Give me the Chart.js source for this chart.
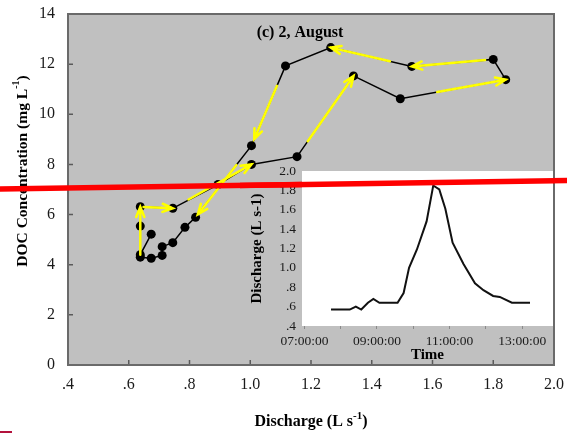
<!DOCTYPE html>
<html>
<head>
<meta charset="utf-8">
<script src="https://cdn.jsdelivr.net/npm/chart.js@4/dist/chart.umd.min.js"></script>
<style>
  html,body{margin:0;padding:0;background:#fff;}
  #wrap{position:relative;width:567px;height:438px;overflow:hidden;}
  #main{position:absolute;left:0;top:0;}
  #inset{position:absolute;left:240px;top:160px;}
</style>
</head>
<body>
<div id="wrap">
  <canvas id="main" width="567" height="438"></canvas>
  <canvas id="inset" width="314" height="205"></canvas>
</div>
<script>
// hysteresis loop (c) 2 August, in sampling order
const discharge = [0.674, 0.638, 0.638, 0.638, 0.745, 0.894, 1.004, 1.154, 1.34, 1.494, 1.841, 1.80, 1.532, 1.265, 1.116, 1.004, 0.82, 0.785, 0.745, 0.71, 0.71, 0.674, 0.638];
const docConc   = [5.22, 4.40, 5.54, 6.31, 6.25, 7.20, 8.00, 8.31, 11.53, 10.62, 11.38, 12.19, 11.91, 12.66, 11.93, 8.75, 5.89, 5.49, 4.88, 4.72, 4.37, 4.26, 4.30];
// yellow arrows: [from point, to point, start fraction, end fraction]
const arrows = [[1,3,0,1],[3,4,0.1,1],[4,6,0.2,1],[7,8,0.19,1],[9,10,0.35,1],[11,12,0.1,1],[12,13,0.27,1],[14,15,0.25,0.92],[15,16,0.27,0.96]];
const dischargeTicks = [0.4, 0.6, 0.8, 1.0, 1.2, 1.4, 1.6, 1.8, 2.0];
const docTicks = [0, 2, 4, 6, 8, 10, 12, 14];

// inset hydrograph
const sampleTimes = ['07:44','08:15','08:25','08:34','08:45','08:54','09:04','09:34','09:44','09:53','10:06','10:22','10:33','10:43','10:53','11:05','11:23','11:42','11:56','12:12','12:23','12:43','13:13'];
const flow        = [0.57, 0.57, 0.60, 0.57, 0.64, 0.68, 0.64, 0.64, 0.74, 1.00, 1.19, 1.48, 1.85, 1.81, 1.61, 1.26, 1.04, 0.84, 0.77, 0.71, 0.70, 0.64, 0.64];
const hourTicks   = ['07:00','08:00','09:00','10:00','11:00','12:00','13:00'];
const hourLabels  = ['07:00:00','','09:00:00','','11:00:00','','13:00:00'];
const flowTicks   = [0.4, 0.6, 0.8, 1.0, 1.2, 1.4, 1.6, 1.8, 2.0];

// red marker line drawn over the figure, in main-chart units
const markQ = [0.176, 2.043];
const markC = [7.024, 7.355];

const SERIF = '"Liberation Serif", "Times New Roman", serif';
const toMin = s => { const [h, m] = s.split(':').map(Number); return h * 60 + m; };
const fmtDec = v => v < 1 ? '.' + Math.round(v * 10) : v.toFixed(1);
// keep chart area where the layout padding puts it
const noPadX = s => { s.paddingLeft = 0; s.paddingRight = 0; };
const noPadY = s => { s.paddingTop = 0; s.paddingBottom = 0; };

function supText(ctx, parts, x, y, size) {
  // parts: [texto, esSuperindice]
  const fontOf = sup => 'bold ' + (sup ? Math.round(size * 0.66) : size) + 'px ' + SERIF;
  let total = 0;
  parts.forEach(([t, sup]) => { ctx.font = fontOf(sup); total += ctx.measureText(t).width; });
  let cx = x - total / 2;
  ctx.textAlign = 'left';
  parts.forEach(([t, sup]) => {
    ctx.font = fontOf(sup);
    ctx.fillText(t, cx, sup ? y - size * 0.42 : y);
    cx += ctx.measureText(t).width;
  });
}

function arrow(ctx, x0, y0, x1, y1) {
  const a = Math.atan2(y1 - y0, x1 - x0), h = 11;
  ctx.beginPath();
  ctx.moveTo(x0, y0); ctx.lineTo(x1, y1);
  ctx.moveTo(x1 - h * Math.cos(a - 0.38), y1 - h * Math.sin(a - 0.38));
  ctx.lineTo(x1, y1);
  ctx.lineTo(x1 - h * Math.cos(a + 0.38), y1 - h * Math.sin(a + 0.38));
  ctx.stroke();
}

let mainChart = null;
function drawMark(ctx, ref, offX, offY) {
  if (!ref) return;
  const sx = ref.scales.x, sy = ref.scales.y;
  ctx.save();
  ctx.strokeStyle = '#ff0000';
  ctx.lineWidth = 5.5;
  ctx.beginPath();
  ctx.moveTo(sx.getPixelForValue(markQ[0]) - offX, sy.getPixelForValue(markC[0]) - offY);
  ctx.lineTo(sx.getPixelForValue(markQ[1]) - offX, sy.getPixelForValue(markC[1]) - offY);
  ctx.stroke();
  ctx.restore();
}

const mainDeco = {
  id: 'mainDeco',
  beforeDraw(chart) {
    const {ctx, chartArea: a} = chart;
    ctx.save();
    ctx.fillStyle = '#c0c0c0';
    ctx.fillRect(a.left, a.top, a.right - a.left, a.bottom - a.top);
    ctx.restore();
  },
  beforeDatasetsDraw(chart) {
    const {ctx, chartArea: a, scales} = chart;
    ctx.save();
    ctx.strokeStyle = '#5a5a5a';
    ctx.lineWidth = 1.5;
    ctx.beginPath();
    dischargeTicks.forEach(v => { const x = scales.x.getPixelForValue(v); ctx.moveTo(x, a.bottom); ctx.lineTo(x, a.bottom - 5); });
    docTicks.forEach(v => { const y = scales.y.getPixelForValue(v); ctx.moveTo(a.left, y); ctx.lineTo(a.left + 5, y); });
    ctx.stroke();
    ctx.strokeStyle = '#6a6a6a';
    ctx.lineWidth = 2;
    ctx.strokeRect(a.left, a.top, a.right - a.left, a.bottom - a.top);
    ctx.restore();
  },
  afterDatasetsDraw(chart) {
    const {ctx, scales} = chart;
    const px = i => [scales.x.getPixelForValue(discharge[i]), scales.y.getPixelForValue(docConc[i])];
    ctx.save();
    ctx.strokeStyle = '#ffff00';
    ctx.lineWidth = 2.5;
    ctx.lineCap = 'round';
    arrows.forEach(([i, j, f0, f1]) => {
      const [xa, ya] = px(i), [xb, yb] = px(j);
      arrow(ctx, xa + (xb - xa) * f0, ya + (yb - ya) * f0, xa + (xb - xa) * f1, ya + (yb - ya) * f1);
    });
    ctx.restore();
  },
  afterDraw(chart) {
    const {ctx, chartArea: a} = chart;
    ctx.save();
    ctx.fillStyle = '#000';
    ctx.textBaseline = 'alphabetic';
    ctx.font = 'bold 16px ' + SERIF;
    ctx.textAlign = 'center';
    ctx.fillText('(c) 2, August', a.left + 232, a.top + 23);
    supText(ctx, [['Discharge (L s', false], ['-1', true], [')', false]], (a.left + a.right) / 2, 426, 16);
    ctx.translate(23, 171);
    ctx.rotate(-Math.PI / 2);
    ctx.textBaseline = 'middle';
    supText(ctx, [['DOC Concentration (mg L', false], ['-1', true], [')', false]], 0, 0, 15.5);
    ctx.restore();
    drawMark(ctx, chart, 0, 0);
    // small mark bottom left
    ctx.save();
    ctx.strokeStyle = '#b3123c';
    ctx.lineWidth = 2;
    ctx.beginPath(); ctx.moveTo(0, 432); ctx.lineTo(12, 432); ctx.stroke();
    ctx.restore();
  }
};

mainChart = new Chart(document.getElementById('main'), {
  type: 'scatter',
  data: {
    datasets: [{
      data: discharge.map((q, i) => ({x: q, y: docConc[i]})),
      showLine: true,
      borderColor: '#000',
      borderWidth: 1.5,
      backgroundColor: '#000',
      pointRadius: 4.5,
      pointBorderWidth: 0,
      tension: 0
    }]
  },
  options: {
    responsive: false,
    animation: false,
    layout: {padding: {top: 14, right: 13, left: 0, bottom: 0}},
    plugins: {legend: {display: false}, tooltip: {enabled: false}},
    scales: {
      x: {
        type: 'linear', min: 0.4, max: 2.0,
        afterBuildTicks: s => { s.ticks = dischargeTicks.map(v => ({value: v})); },
        afterFit: s => { s.height = 73; noPadX(s); },
        grid: {display: false, drawTicks: false},
        border: {display: false},
        ticks: {padding: 10, color: '#1a1a1a', autoSkip: false, font: {family: SERIF, size: 16}, callback: v => fmtDec(v)}
      },
      y: {
        type: 'linear', min: 0, max: 14,
        afterBuildTicks: s => { s.ticks = docTicks.map(v => ({value: v})); },
        afterFit: s => { s.width = 68; noPadY(s); },
        grid: {display: false, drawTicks: false},
        border: {display: false},
        ticks: {padding: 13, color: '#1a1a1a', autoSkip: false, font: {family: SERIF, size: 16}}
      }
    }
  },
  plugins: [mainDeco]
});

const insetDeco = {
  id: 'insetDeco',
  beforeDraw(chart) {
    const {ctx, chartArea: a} = chart;
    ctx.save();
    ctx.fillStyle = '#ffffff';
    ctx.fillRect(a.left, a.top, a.right - a.left, a.bottom - a.top);
    ctx.restore();
  },
  afterDraw(chart) {
    const {ctx, chartArea: a, canvas} = chart;
    ctx.save();
    ctx.fillStyle = '#000';
    ctx.textBaseline = 'alphabetic';
    ctx.font = 'bold 15px ' + SERIF;
    ctx.textAlign = 'center';
    ctx.fillText('Time', (a.left + a.right) / 2, 199);
    ctx.translate(17, (a.top + a.bottom) / 2);
    ctx.rotate(-Math.PI / 2);
    ctx.textBaseline = 'middle';
    ctx.fillText('Discharge (L s-1)', 0, 0);
    ctx.restore();
    drawMark(ctx, mainChart, canvas.offsetLeft, canvas.offsetTop);
  }
};

new Chart(document.getElementById('inset'), {
  type: 'scatter',
  data: {
    datasets: [{
      data: sampleTimes.map((t, i) => ({x: toMin(t), y: flow[i]})),
      showLine: true,
      borderColor: '#111',
      borderWidth: 2,
      pointRadius: 0,
      tension: 0
    }]
  },
  options: {
    responsive: false,
    animation: false,
    layout: {padding: {top: 11, right: 1, left: 0, bottom: 0}},
    plugins: {legend: {display: false}, tooltip: {enabled: false}},
    scales: {
      x: {
        type: 'linear', min: 416, max: 831,
        afterBuildTicks: s => { s.ticks = hourTicks.map(t => ({value: toMin(t)})); },
        afterFit: s => { s.height = 39; noPadX(s); },
        grid: {display: true, drawOnChartArea: false, drawTicks: true, tickLength: 3, color: '#8a8a8a'},
        border: {display: false},
        ticks: {padding: 4, color: '#1a1a1a', maxRotation: 0, autoSkip: false, font: {family: SERIF, size: 13.5},
          callback: (v, i) => hourLabels[i]}
      },
      y: {
        type: 'linear', min: 0.4, max: 2.0,
        afterBuildTicks: s => { s.ticks = flowTicks.map(v => ({value: v})); },
        afterFit: s => { s.width = 62; noPadY(s); },
        grid: {display: false, drawTicks: false},
        border: {display: false},
        ticks: {padding: 6, color: '#1a1a1a', autoSkip: false, font: {family: SERIF, size: 13.5}, callback: v => fmtDec(v)}
      }
    }
  },
  plugins: [insetDeco]
});
</script>
</body>
</html>
